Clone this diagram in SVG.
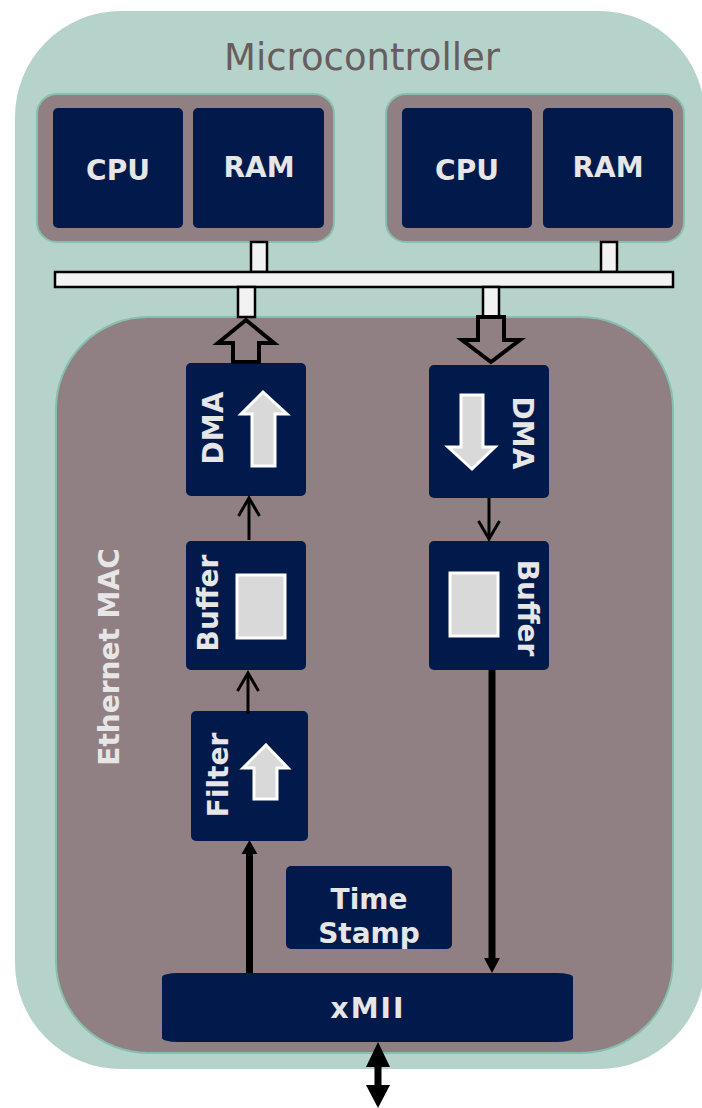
<svg xmlns="http://www.w3.org/2000/svg" width="702" height="1108" viewBox="0 0 702 1108">
<style>
.node{fill:#021a4b}
.lbl{font-family:"DejaVu Sans",Verdana,sans-serif;font-weight:bold;font-size:28px;fill:#e6e6e6;text-anchor:middle}
.grp{fill:#918083;stroke:#86bfae;stroke-width:2}
.bus{fill:#f2f2f2;stroke:#000;stroke-width:2.5}
.hol{fill:#918083;stroke:#000;stroke-width:4;stroke-linejoin:miter}
.inner{fill:#d9d9d9;stroke:#fff;stroke-width:3}
.thin{fill:none;stroke:#000;stroke-width:3}
.thick{stroke:#000;stroke-width:7}
</style>
<g id="microcontroller">
<rect x="15" y="11" width="690" height="1058" rx="106" ry="106" fill="#b5d3cb"/>
<text x="362" y="70" font-family="DejaVu Sans,Verdana,sans-serif" font-size="37" fill="#675d5e" text-anchor="middle">Microcontroller</text>
</g>
<g id="core1">
<rect class="grp" x="37" y="94" width="297" height="148" rx="20"/>
</g>
<g id="core2">
<rect class="grp" x="386" y="94" width="298" height="148" rx="20"/>
</g>
<g id="cpu1"><rect class="node" x="53" y="108" width="130" height="120" rx="5"/><text class="lbl" x="118" y="180">CPU</text></g>
<g id="ram1"><rect class="node" x="193" y="108" width="131" height="120" rx="5"/><text class="lbl" x="259" y="177">RAM</text></g>
<g id="cpu2"><rect class="node" x="402" y="108" width="130" height="120" rx="5"/><text class="lbl" x="467" y="180">CPU</text></g>
<g id="ram2"><rect class="node" x="543" y="108" width="130" height="120" rx="5"/><text class="lbl" x="608" y="177">RAM</text></g>
<g id="ethernet_mac">
<rect x="56" y="317" width="617" height="736" rx="92" ry="92" fill="#918083" stroke="#86bfae" stroke-width="2"/>
<text class="lbl" transform="translate(109,657) rotate(-90)" dominant-baseline="central">Ethernet MAC</text>
</g>
<g id="dma_rx">
<rect class="node" x="186" y="363" width="120" height="133" rx="5"/>
<text class="lbl" transform="translate(213,428) rotate(-90)" dominant-baseline="central">DMA</text>
<polygon class="inner" points="263,392 287,414 275,414 275,466 252,466 252,414 241,414"/>
</g>
<g id="dma_tx">
<rect class="node" x="429" y="365" width="120" height="133" rx="5"/>
<text class="lbl" transform="translate(522,433) rotate(90)" dominant-baseline="central">DMA</text>
<polygon class="inner" points="461,395 483,395 483,447 495,447 472,469 448,447 461,447"/>
</g>
<g id="buffer_rx">
<rect class="node" x="186" y="541" width="120" height="129" rx="5"/>
<text class="lbl" transform="translate(208,603) rotate(-90)" dominant-baseline="central">Buffer</text>
<rect class="inner" x="237" y="575" width="48" height="63"/>
</g>
<g id="buffer_tx">
<rect class="node" x="429" y="541" width="120" height="129" rx="5"/>
<text class="lbl" transform="translate(527,608) rotate(90)" dominant-baseline="central">Buffer</text>
<rect class="inner" x="450" y="573" width="48" height="63"/>
</g>
<g id="filter">
<rect class="node" x="191" y="711" width="117" height="130" rx="5"/>
<text class="lbl" transform="translate(218,775) rotate(-90)" dominant-baseline="central">Filter</text>
<polygon class="inner" points="266,745 288,768 277,768 277,799 254,799 254,768 243,768"/>
</g>
<g id="timestamp">
<rect class="node" x="286" y="866" width="166" height="83" rx="5"/>
<text class="lbl" x="369" y="909">Time</text>
<text class="lbl" x="369" y="943">Stamp</text>
</g>
<g id="xmii">
<rect class="node" x="162" y="973" width="411" height="69" rx="16" ry="4"/>
<text class="lbl" x="368" y="1018" letter-spacing="2">xMII</text>
</g>
<g id="connectors">
<rect class="bus" x="251" y="242" width="16" height="30"/>
<rect class="bus" x="601" y="242" width="16" height="30"/>
<rect class="bus" x="55" y="272" width="618" height="15"/>
<rect class="bus" x="238" y="287" width="17" height="30"/>
<rect class="bus" x="483" y="287" width="16" height="30"/>
<polygon class="hol" points="246,320 274,343 259,343 259,362 233,362 233,343 218,343"/>
<polygon class="hol" points="478,317 504,317 504,340 520,340 491,362 462,340 478,340"/>
<line class="thin" x1="249" y1="540" x2="249" y2="498"/>
<polyline class="thin" points="238.5,516 249,498 259.5,516"/>
<line class="thin" x1="248" y1="714" x2="248" y2="673"/>
<polyline class="thin" points="237.5,691 248,673 258.5,691"/>
<line class="thin" x1="489" y1="498" x2="489" y2="539"/>
<polyline class="thin" points="478.5,521 489,539 499.5,521"/>
<line class="thick" x1="249.5" y1="973" x2="249.5" y2="850"/>
<polygon points="249.5,840 257.5,854 241.5,854"/>
<line class="thick" x1="492" y1="670" x2="492" y2="960"/>
<polygon points="492,973 500,958 484,958"/>
<line class="thick" x1="378" y1="1060" x2="378" y2="1090" stroke-width="8"/>
<polygon points="378,1042 390,1067 366,1067"/>
<polygon points="378,1108 390,1085 366,1085"/>
</g>
</svg>
